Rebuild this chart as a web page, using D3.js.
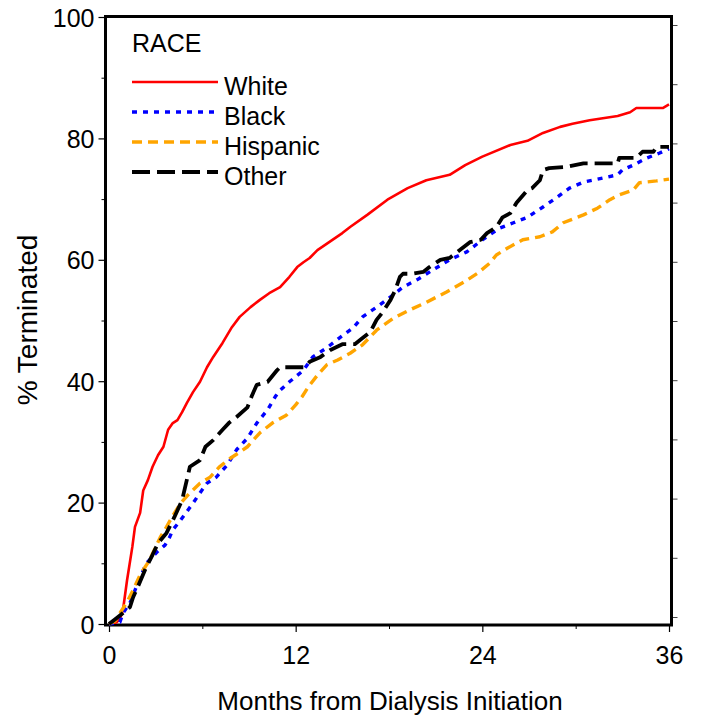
<!DOCTYPE html>
<html>
<head>
<meta charset="utf-8">
<script src="https://cdn.jsdelivr.net/npm/d3@7"></script>
<style>
  html, body { margin: 0; padding: 0; background: #fff; }
  svg { display: block; }
  text { font-family: "Liberation Sans", Arial, sans-serif; fill: #000; }
</style>
</head>
<body>
<svg id="chart" width="701" height="718"></svg>
<script>
// ---- data ----
const seriesNames = ["White", "Black", "Hispanic", "Other"];
const seriesColors = ["#ff0000", "#0000ff", "#ffa500", "#000000"];
const xTicks = [0, 12, 24, 36];
const xMinorTicks = [6, 18, 30];
const yTicks = [0, 20, 40, 60, 80, 100];
const yMinorTicks = [10, 30, 50, 70, 90];

const whiteMonths = [0,0.5,0.7,0.9,1.16,1.5,1.67,2.0,2.2,2.5,2.8,3.15,3.5,3.8,4.1,4.4,4.7,5.0,5.4,5.85,6.3,6.7,7.3,7.9,8.4,9.1,9.7,10.3,11.0,11.6,12.1,12.5,12.9,13.4,14.2,15.0,15.5,16.6,17.9,19.2,20.4,21.9,22.9,24.0,25.8,26.9,27.9,29.0,29.8,30.9,32.7,33.5,33.9,35.6,36];
const whiteValues = [0,0.3,0.8,2.3,7.2,12.7,16,18.3,22,23.7,25.9,27.8,29.2,32,33.1,33.6,34.9,36.4,38.2,39.9,42.3,44,46.3,48.9,50.6,52.2,53.4,54.5,55.5,57.2,58.8,59.6,60.3,61.6,63,64.4,65.4,67.4,69.9,71.8,73.1,74,75.6,77,78.9,79.6,80.9,81.9,82.4,83,83.7,84.3,85,85,85.6];

const blackMonths = [0,0.5,0.7,0.9,1.35,1.86,2.4,3.1,3.6,3.9,4.1,4.6,5.0,5.4,5.85,6.3,6.9,7.6,8.2,8.9,9.5,10.2,10.7,11.0,11.6,12.5,13.1,14.0,14.8,15.7,16.3,17.2,18.1,18.9,19.8,20.8,21.9,23.0,24.0,25.1,26.0,26.9,27.9,28.8,29.6,30.5,31.8,32.7,33.0,33.7,34.6,35.4,36];
const blackValues = [0,0.2,0.3,1.8,3.5,6.8,10,11.9,13,14.3,15.5,17.1,18.5,19.9,21.6,23.2,24.2,26.2,28.7,30.6,33.1,35.3,37.5,38.5,39.9,41.8,44,45.5,47.1,48.8,50.6,52.2,53.9,55.5,56.7,58.3,60,61.3,63.3,65.2,66.1,67,68.7,70.3,71.8,72.8,73.5,74,74.8,75.6,76.8,77.6,78.3];

const hispanicMonths = [0,0.4,0.7,1.16,1.55,2.0,2.6,3.3,3.7,4.05,4.6,5.2,5.85,6.5,7.1,7.8,8.4,8.9,9.7,10.5,11.4,12.0,12.4,12.8,13.4,14.0,14.7,15.5,16.3,17.2,18.3,19.3,20.4,21.7,22.8,23.7,24.5,24.9,25.6,26.6,27.7,28.5,29.2,30.5,31.4,32.2,32.8,33.7,34.1,35.2,36];
const hispanicValues = [0,0.5,1.8,3.6,5.6,8.1,10.5,14.3,16,17.6,19.9,21.6,23.2,24.2,25.9,27.3,28.3,29.2,31.5,33.1,34.4,36.1,37.4,39,41,42.7,43.5,44.6,46,48.4,50.4,51.7,53,54.7,56.3,57.8,59.5,60.8,61.9,63.3,63.8,64.6,66.1,67.4,68.5,69.9,70.7,71.5,72.7,73,73.3];

const otherMonths = [0,0.5,0.9,1.35,1.55,1.9,2.4,2.8,3.15,3.7,4.2,4.7,5.0,5.2,5.85,6.2,6.7,7.3,7.7,8.2,8.9,9.2,9.5,10.2,10.8,11.0,12.6,12.9,13.6,14.2,15.0,15.8,16.3,16.8,17.2,17.6,18.1,18.4,18.7,18.9,19.5,20.2,20.6,21.3,21.9,22.4,23.2,23.9,24.3,24.9,25.3,25.8,26.2,26.9,27.2,27.7,27.9,28.3,29.4,30.5,32.7,32.8,33.9,34.3,35.0,35.2,36];
const otherValues = [0,1,1.8,2.8,4.4,6.4,9.4,11.4,13.3,15,17.6,20.4,23.7,25.9,27,29.2,30.3,32,33.1,34.1,35.7,37.7,39.4,39.9,41.8,42.3,42.3,43.2,44,45.1,46.1,46.1,47.1,48.1,50.1,51.4,53.4,55,57.2,57.7,57.7,58,58.8,60,60.3,61.3,62.9,63.3,64.4,65.4,67,67.7,69.4,71.5,71.8,73.1,74.8,75.1,75.3,75.9,75.9,76.8,76.8,77.8,77.8,78.6,78.6];

const seriesMonths = [whiteMonths, blackMonths, hispanicMonths, otherMonths];
const seriesValues = [whiteValues, blackValues, hispanicValues, otherValues];

// ---- styles ----
const dashes = [null, "5,6", "10,6", "18,7"];
const widths = [2.6, 3.4, 3.4, 3.8];

const svg = d3.select("#chart");
const x = d3.scaleLinear().domain([0, 36]).range([109, 669]);
const y = d3.scaleLinear().domain([0, 100]).range([624, 17]);
const yRight = d3.scaleLinear().domain([0, 100]).range([617, 25]);

const fontSize = 25;

// left axis major
const gL = svg.append("g").attr("transform", "translate(105.5,0)")
  .call(d3.axisLeft(y).tickValues(yTicks).tickSize(7).tickPadding(4).tickFormat(d3.format("d")));
gL.select(".domain").remove();
gL.selectAll("line").attr("stroke", "#000").attr("stroke-width", 1.2);
gL.selectAll("text").attr("font-size", fontSize).attr("font-family", "Liberation Sans, Arial, sans-serif").attr("dy", "0.36em");
const gLm = svg.append("g").attr("transform", "translate(105.5,0)")
  .call(d3.axisLeft(y).tickValues(yMinorTicks).tickSize(4).tickFormat(""));
gLm.select(".domain").remove();
gLm.selectAll("line").attr("stroke", "#000").attr("stroke-width", 1);

// right axis (separate scale, ticks only)
const gR = svg.append("g").attr("transform", "translate(671.5,0)")
  .call(d3.axisRight(yRight).ticks(10).tickSize(6).tickFormat(""));
gR.select(".domain").remove();
gR.selectAll("line").attr("stroke", "#444").attr("stroke-width", 1);

// bottom axis
const gB = svg.append("g").attr("transform", "translate(0,625)")
  .call(d3.axisBottom(x).tickValues(xTicks).tickSize(7).tickPadding(14).tickFormat(d3.format("d")));
gB.select(".domain").remove();
gB.selectAll("line").attr("stroke", "#000").attr("stroke-width", 1.2);
gB.selectAll("text").attr("font-size", fontSize).attr("font-family", "Liberation Sans, Arial, sans-serif").attr("dy", "0.71em");
const gBm = svg.append("g").attr("transform", "translate(0,625)")
  .call(d3.axisBottom(x).tickValues(xMinorTicks).tickSize(4).tickFormat(""));
gBm.select(".domain").remove();
gBm.selectAll("line").attr("stroke", "#000").attr("stroke-width", 1);

// frame
svg.append("rect")
  .attr("x", 105.5).attr("y", 16.5)
  .attr("width", 671.5 - 105.5).attr("height", 625 - 16.5)
  .attr("fill", "none").attr("stroke", "#000").attr("stroke-width", 3);

// curves
const line = d3.line().x(d => x(d[0])).y(d => y(d[1]));
seriesNames.forEach((name, i) => {
  const pts = seriesMonths[i].map((m, j) => [m, seriesValues[i][j]]);
  svg.append("path")
    .datum(pts)
    .attr("d", line)
    .attr("fill", "none")
    .attr("stroke", seriesColors[i])
    .attr("stroke-width", widths[i])
    .attr("stroke-dasharray", dashes[i])
    .attr("stroke-linejoin", "round");
});

// legend
const leg = svg.append("g");
leg.append("text").attr("x", 132).attr("y", 52).attr("font-size", fontSize).text("RACE");
seriesNames.forEach((name, i) => {
  const ly = 82 + i * 30;
  leg.append("line")
    .attr("x1", 132).attr("x2", 218).attr("y1", ly).attr("y2", ly)
    .attr("stroke", seriesColors[i]).attr("stroke-width", widths[i])
    .attr("stroke-dasharray", dashes[i]);
  leg.append("text").attr("x", 224).attr("y", ly + 13).attr("font-size", fontSize).text(name);
});

// axis titles
svg.append("text")
  .attr("x", 390).attr("y", 710)
  .attr("text-anchor", "middle").attr("font-size", 26)
  .text("Months from Dialysis Initiation");
svg.append("text")
  .attr("transform", "translate(37,320) rotate(-90)")
  .attr("text-anchor", "middle").attr("font-size", 28)
  .text("% Terminated");
</script>
</body>
</html>
